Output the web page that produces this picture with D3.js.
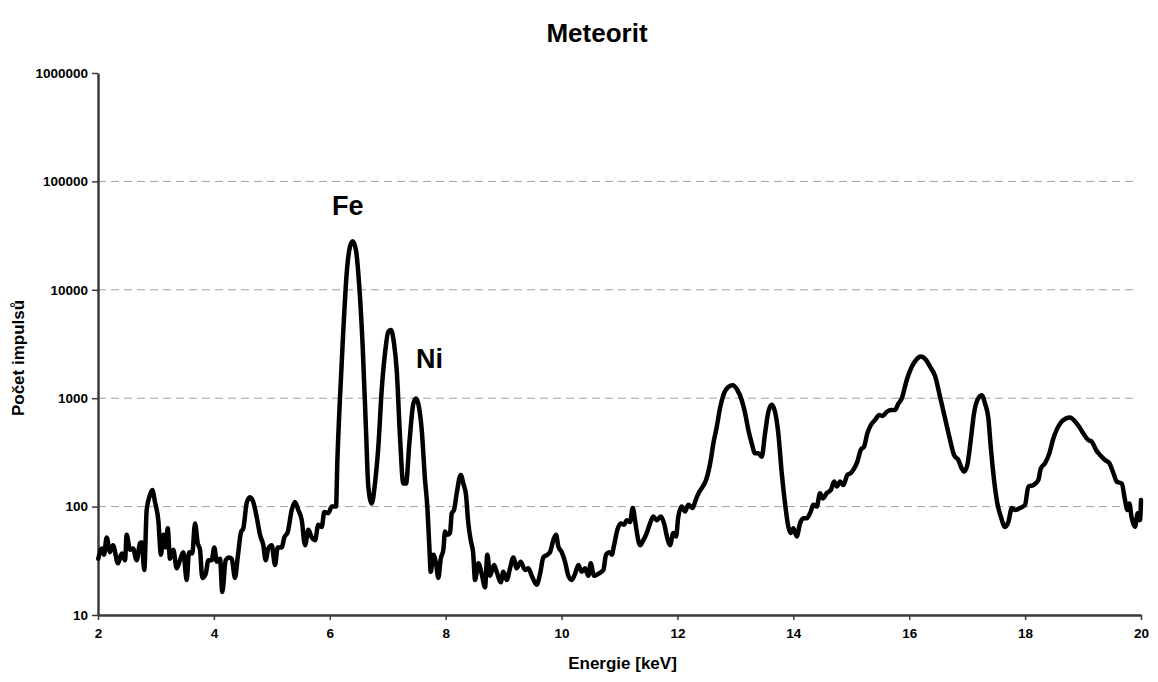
<!DOCTYPE html>
<html>
<head>
<meta charset="utf-8">
<script src="https://cdn.jsdelivr.net/npm/d3@7"></script>
<style>
  body { margin: 0; background: #fff; }
  text { font-family: 'Liberation Sans', Arial, sans-serif; font-weight: bold; }
</style>
</head>
<body>
<div id="chart"></div>
<script>
// spectrum: energy [keV] and counts
const energy = [
  2.005, 2.064, 2.104, 2.150, 2.207, 2.259, 2.345, 2.409, 2.466, 2.495, 2.552, 2.604, 2.668, 2.725, 2.754,
  2.799, 2.840, 2.897, 2.937, 2.984, 3.041, 3.087, 3.127, 3.168, 3.203, 3.243, 3.300, 3.358, 3.415, 3.472,
  3.531, 3.571, 3.627, 3.674, 3.721, 3.760, 3.800, 3.859, 3.904, 3.962, 4.007, 4.049, 4.106, 4.145, 4.204,
  4.261, 4.308, 4.364, 4.411, 4.468, 4.508, 4.566, 4.623, 4.680, 4.739, 4.796, 4.853, 4.894, 4.939, 4.998,
  5.055, 5.101, 5.170, 5.215, 5.274, 5.343, 5.400, 5.457, 5.516, 5.573, 5.630, 5.688, 5.745, 5.802, 5.861,
  5.906, 5.975, 6.033, 6.061, 6.108, 6.130, 6.177, 6.234, 6.292, 6.349, 6.396, 6.453, 6.510, 6.568, 6.625,
  6.665, 6.724, 6.781, 6.838, 6.896, 6.953, 7.010, 7.057, 7.109, 7.155, 7.212, 7.269, 7.316, 7.373, 7.442,
  7.488, 7.528, 7.587, 7.644, 7.683, 7.718, 7.742, 7.787, 7.834, 7.873, 7.915, 7.960, 7.989, 8.029, 8.075,
  8.105, 8.144, 8.191, 8.260, 8.305, 8.351, 8.391, 8.432, 8.475, 8.507, 8.564, 8.622, 8.679, 8.719, 8.766,
  8.835, 8.881, 8.950, 8.995, 9.054, 9.111, 9.168, 9.226, 9.295, 9.370, 9.427, 9.485, 9.571, 9.629, 9.686,
  9.755, 9.801, 9.858, 9.905, 9.944, 10.003, 10.060, 10.117, 10.176, 10.233, 10.290, 10.348, 10.405, 10.462, 10.503,
  10.560, 10.635, 10.721, 10.768, 10.825, 10.866, 10.906, 10.963, 11.021, 11.078, 11.125, 11.182, 11.228, 11.268, 11.297,
  11.354, 11.411, 11.470, 11.527, 11.584, 11.642, 11.712, 11.769, 11.826, 11.872, 11.929, 11.976, 12.015, 12.074, 12.131,
  12.188, 12.264, 12.304, 12.378, 12.436, 12.494, 12.575, 12.620, 12.678, 12.735, 12.792, 12.878, 12.954, 13.034, 13.110,
  13.167, 13.224, 13.282, 13.339, 13.396, 13.455, 13.512, 13.569, 13.627, 13.684, 13.741, 13.800, 13.857, 13.914, 13.955,
  14.000, 14.059, 14.116, 14.173, 14.231, 14.300, 14.345, 14.404, 14.461, 14.508, 14.577, 14.646, 14.703, 14.750, 14.806,
  14.863, 14.932, 14.991, 15.048, 15.105, 15.163, 15.220, 15.277, 15.336, 15.410, 15.484, 15.543, 15.612, 15.698, 15.755,
  15.812, 15.871, 15.957, 16.044, 16.118, 16.199, 16.291, 16.360, 16.446, 16.532, 16.618, 16.692, 16.774, 16.848, 16.907,
  16.946, 17.003, 17.062, 17.119, 17.176, 17.252, 17.309, 17.366, 17.407, 17.464, 17.521, 17.580, 17.654, 17.711, 17.770,
  17.827, 17.913, 17.999, 18.056, 18.142, 18.229, 18.270, 18.344, 18.418, 18.487, 18.556, 18.632, 18.707, 18.776, 18.862,
  18.936, 19.005, 19.091, 19.150, 19.224, 19.293, 19.379, 19.454, 19.523, 19.581, 19.667, 19.724, 19.764, 19.799, 19.835,
  19.897, 19.943, 19.983, 20.000
]
const counts = [
  33, 41, 36, 52, 38, 44, 30, 37, 32, 55, 40, 41, 32, 46, 47,
  26, 93, 128, 142, 110, 75, 36, 55, 42, 63, 33, 40, 27, 32, 38,
  21, 38, 37, 70, 46, 40, 22, 24, 32, 32, 42, 31, 33, 16.3, 32,
  34, 33, 22, 34, 58, 63, 108, 122, 110, 80, 55, 44, 32, 41, 44,
  29, 42, 42, 52, 58, 93, 110, 93, 75, 44, 61, 52, 49, 68, 65,
  89, 87, 100, 100, 100, 254, 1030, 4250, 14200, 25000, 28000, 23000, 10600, 2990, 509,
  153, 107, 165, 357, 1190, 2600, 4110, 4250, 3200, 1820, 440, 163, 163, 383, 890,
  995, 890, 509, 176, 100, 43, 25, 36, 30, 22, 33, 40, 59, 55, 57,
  87, 93, 133, 196, 163, 128, 70, 49, 37, 21, 30, 24, 18, 36, 23,
  29, 25, 20, 25, 21, 27, 34, 27, 31, 26, 27, 23, 19, 24, 34,
  36, 38, 49, 55, 43, 38, 31, 23, 21, 24, 29, 25, 27, 23, 30,
  23, 24, 26, 36, 38, 36, 44, 61, 70, 68, 75, 72, 97, 75, 59,
  44, 49, 57, 70, 81, 75, 81, 70, 51, 44, 57, 53, 81, 100, 90,
  104, 97, 111, 137, 153, 176, 269, 383, 542, 810, 1066, 1270, 1320, 1190, 958,
  730, 509, 383, 310, 310, 289, 473, 750, 870, 750, 473, 204, 107, 65, 57,
  63, 53, 70, 78, 78, 90, 104, 100, 133, 119, 133, 142, 170, 153, 170,
  158, 196, 204, 224, 260, 333, 357, 473, 563, 629, 700, 686, 750, 778, 778,
  890, 995, 1473, 1950, 2250, 2420, 2250, 1950, 1600, 1030, 652, 440, 299, 269, 224,
  210, 242, 411, 730, 958, 1066, 890, 652, 357, 176, 107, 81, 65, 72, 97,
  93, 97, 104, 153, 158, 176, 224, 251, 310, 425, 527, 610, 652, 665, 610,
  542, 473, 411, 398, 333, 299, 269, 251, 204, 170, 163, 115, 93, 107, 81,
  65, 87, 75, 115
]
const xTicks = [2, 4, 6, 8, 10, 12, 14, 16, 18, 20]
const yTicks = [10, 100, 1000, 10000, 100000, 1000000]
// peak names with the point where each label sits
const peakNames = ['Fe', 'Ni']
const peakLabelE = [6.04, 7.49]
const peakLabelC = [49000, 1900]

const width = 1158
const height = 682
const margin = { top: 73, right: 17, bottom: 67, left: 98 }

const svg = d3
  .select('#chart')
  .append('svg')
  .attr('width', width)
  .attr('height', height)

const x = d3
  .scaleLinear()
  .domain([2, 20])
  .range([margin.left, width - margin.right])

const y = d3
  .scaleLog()
  .domain([10, 1000000])
  .range([height - margin.bottom, margin.top])

// dashed grid
svg
  .append('g')
  .selectAll('line')
  .data(yTicks.filter(d => d > 10 && d < 1000000))
  .enter()
  .append('line')
  .attr('x1', x(2))
  .attr('x2', x(20) - 4)
  .attr('y1', d => y(d))
  .attr('y2', d => y(d))
  .attr('stroke', '#a0a0a0')
  .attr('stroke-width', 1)
  .attr('stroke-dasharray', '8,5')

// axes
const xAxis = svg
  .append('g')
  .attr('transform', `translate(0,${y(10)})`)
  .call(d3.axisBottom(x).tickValues(xTicks).tickSize(5).tickPadding(8).tickSizeOuter(0))
const yAxis = svg
  .append('g')
  .attr('transform', `translate(${x(2)},0)`)
  .call(d3.axisLeft(y).tickValues(yTicks).tickFormat(d3.format('d')).tickSize(6).tickPadding(4).tickSizeOuter(0))

;[xAxis, yAxis].forEach(g => {
  g.select('.domain').attr('stroke', '#3a3a3a').attr('stroke-width', 2.5)
  g.selectAll('.tick line').attr('stroke', '#3a3a3a').attr('stroke-width', 1.5)
  g.selectAll('.tick text')
    .attr('fill', '#000')
    .style('font-size', '13.5px')
    .style('font-family', "'Liberation Sans', Arial, sans-serif")
    .style('font-weight', 'bold')
})

// spectrum line
const points = energy.map((e, i) => [e, counts[i]])
const line = d3
  .line()
  .x(d => x(d[0]))
  .y(d => y(d[1]))
  .curve(d3.curveMonotoneX)

svg
  .append('path')
  .datum(points)
  .attr('d', line)
  .attr('fill', 'none')
  .attr('stroke', '#000')
  .attr('stroke-width', 4.5)
  .attr('stroke-linejoin', 'round')
  .attr('stroke-linecap', 'round')

// peak names
svg
  .append('g')
  .selectAll('text')
  .data(peakNames)
  .enter()
  .append('text')
  .attr('x', (d, i) => x(peakLabelE[i]))
  .attr('y', (d, i) => y(peakLabelC[i]))
  .style('font-size', '27px')
  .text(d => d)

// titles
svg
  .append('text')
  .attr('x', 597)
  .attr('y', 42)
  .attr('text-anchor', 'middle')
  .style('font-size', '26px')
  .text('Meteorit')

svg
  .append('text')
  .attr('x', (x(2) + x(20)) / 2 + 3)
  .attr('y', 669)
  .attr('text-anchor', 'middle')
  .style('font-size', '17px')
  .text('Energie [keV]')

svg
  .append('text')
  .attr('transform', 'translate(24,358) rotate(-90)')
  .attr('text-anchor', 'middle')
  .style('font-size', '17px')
  .text('Počet impulsů')
</script>
</body>
</html>
